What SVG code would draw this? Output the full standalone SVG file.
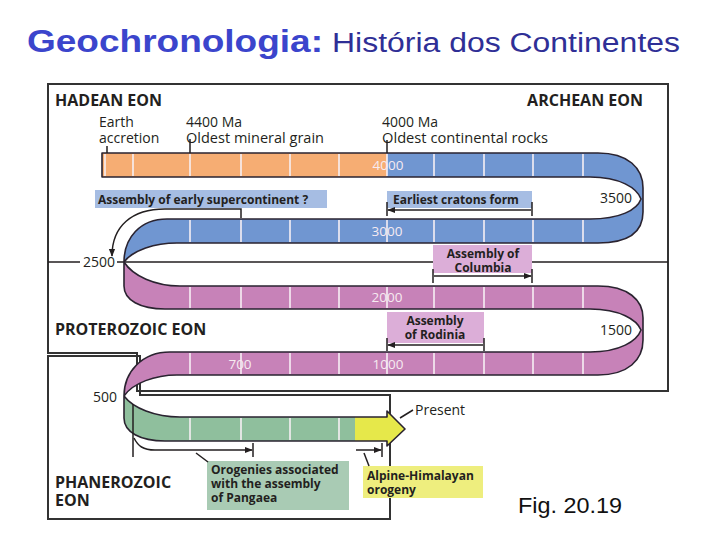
<svg xmlns="http://www.w3.org/2000/svg" width="720" height="540" viewBox="0 0 720 540">
<defs>
<style>
.t{font-family:"Open Sans","Liberation Sans",sans-serif;fill:#231f20}
.eon{font-size:16px;font-weight:700}
.ann{font-size:14px}
.num{font-size:14px}
.bl{font-size:13.5px;fill:#f6ebf1}
.bx{font-size:12px;font-weight:700}
.frame{fill:none;stroke:#333;stroke-width:2}
.ol{fill:none;stroke:#2a2330;stroke-width:1.6;stroke-linejoin:round}
.tick{fill:none;stroke:#f7eff4;stroke-width:1.6}
.ln{fill:none;stroke:#231f20;stroke-width:1.5}
</style>
<marker id="ah" viewBox="0 0 10 10" refX="9" refY="5" markerWidth="8" markerHeight="8" markerUnits="userSpaceOnUse" orient="auto"><path d="M0,1 L10,5 L0,9 Z" fill="#231f20"/></marker>
</defs>
<rect width="720" height="540" fill="#fff"/>

<g id="title">
<text x="27" y="52" font-family="'Liberation Sans',Arial,sans-serif" font-size="31" font-weight="700" fill="#3b45cc" textLength="296" lengthAdjust="spacingAndGlyphs">Geochronologia:</text>
<text x="332" y="52" font-family="'Liberation Sans',Arial,sans-serif" font-size="27" fill="#2f2f96" textLength="348" lengthAdjust="spacingAndGlyphs">História dos Continentes</text>
</g>

<g id="frame">
<path class="frame" d="M48,84 H668 V391 H137 V353 H48 Z"/>
<path class="frame" d="M48,356 H140 V395 H390 V519 H48 Z"/>
<path class="ln" d="M48,262 H80 M117,262 H668"/>
</g>

<g id="ribbon">
<path fill="#f6ad73" d="M102,153 H387 V177 H102 Z"/>
<path fill="#7096d1" d="M387,153 H598 C628,153 643,168 643,188 V212 C643,232 628,243 598,243 H177 C155,243 133,250 124,262 C124,238 140,219 167,219 H590 C620,219 637,210 641,199 C637,188 620,177 590,177 H387 Z"/>
<path fill="#c782b8" d="M124,262 C133,276 155,286 180,286 H598 C628,286 643,300 643,318 V340 C643,360 628,375 598,375 H177 C155,375 133,383 124,396 C124,372 142,352 170,352 H590 C620,352 637,341 641,330 C637,320 620,309 590,309 H165 C140,309 124,300 124,286 Z"/>
<path fill="#8fbf9d" d="M124,396 C133,408 155,417 180,417 H355 V441 H165 C140,441 124,432 124,418 Z"/>
<path fill="#e6e84a" d="M355,417 H387 V411 L405,429 L387,446 V441 H355 Z"/>
<path class="tick" d="M105,154 V176 M133,154 V176 M190,154 V176 M241,154 V176 M290,154 V176 M339,154 V176 M387,154 V176 M434,154 V176 M484,154 V176 M533,154 V176 M583,154 V176
M190,220 V242 M241,220 V242 M290,220 V242 M339,220 V242 M387,220 V242 M434,220 V242 M484,220 V242 M533,220 V242 M583,220 V242
M190,287 V308 M241,287 V308 M290,287 V308 M339,287 V308 M387,287 V308 M434,287 V308 M484,287 V308 M533,287 V308 M583,287 V308
M190,353 V374 M241,353 V374 M290,353 V374 M339,353 V374 M387,353 V374 M434,353 V374 M484,353 V374 M533,353 V374 M583,353 V374
M190,418 V440 M241,418 V440 M290,418 V440 M339,418 V440"/>
<path class="ol" d="M102,153 H598 C628,153 643,168 643,188 V212 C643,232 628,243 598,243 H177 C155,243 133,250 124,262 C133,276 155,286 180,286 H598 C628,286 643,300 643,318 V340 C643,360 628,375 598,375 H177 C155,375 133,383 124,396 C133,408 155,417 180,417 H387 V411 L405,429 L387,446 V441 H165 C140,441 124,432 124,418 V396 C124,372 142,352 170,352 H590 C620,352 637,341 641,330 C637,320 620,309 590,309 H165 C140,309 124,300 124,286 V262 C124,238 140,219 167,219 H590 C620,219 637,210 641,199 C637,188 620,177 590,177 H102 Z"/>
<text class="t bl" x="388" y="170" text-anchor="middle">4000</text>
<text class="t bl" x="387" y="236" text-anchor="middle">3000</text>
<text class="t bl" x="387" y="302" text-anchor="middle">2000</text>
<text class="t bl" x="240" y="369" text-anchor="middle">700</text>
<text class="t bl" x="388" y="369" text-anchor="middle">1000</text>
</g>

<g id="labels">
<text class="t eon" x="55" y="106">HADEAN EON</text>
<text class="t eon" x="643" y="106" text-anchor="end">ARCHEAN EON</text>
<text class="t eon" x="55" y="335">PROTEROZOIC EON</text>
<text class="t eon" x="55" y="488">PHANEROZOIC</text>
<text class="t eon" x="55" y="506">EON</text>
<text class="t ann" x="99" y="127">Earth</text>
<text class="t ann" x="99" y="143">accretion</text>
<text class="t ann" x="186" y="127">4400 Ma</text>
<text class="t ann" x="186" y="143" textLength="138" lengthAdjust="spacingAndGlyphs">Oldest mineral grain</text>
<text class="t ann" x="382" y="127">4000 Ma</text>
<text class="t ann" x="382" y="143" textLength="166" lengthAdjust="spacingAndGlyphs">Oldest continental rocks</text>
<text class="t num" x="632" y="203" text-anchor="end">3500</text>
<text class="t num" x="632" y="335" text-anchor="end">1500</text>
<text class="t num" x="115" y="267" text-anchor="end">2500</text>
<text class="t num" x="117" y="402" text-anchor="end">500</text>
<text class="t ann" x="415" y="415">Present</text>
<text x="518" y="513" font-family="'Liberation Sans',Arial,sans-serif" font-size="22" fill="#111" textLength="104" lengthAdjust="spacingAndGlyphs">Fig. 20.19</text>
</g>

<g id="box-supercontinent">
<rect x="95" y="190" width="232" height="18" fill="#a6bde3"/>
<text class="t bx" x="98" y="204">Assembly of early supercontinent ?</text>
</g>
<g id="box-cratons">
<rect x="387" y="191" width="145" height="17" fill="#a6bde3"/>
<text class="t bx" x="393" y="204">Earliest cratons form</text>
</g>
<g id="box-columbia">
<rect x="433" y="245" width="99" height="28" fill="#dcaed8"/>
<text class="t bx" x="483" y="258" text-anchor="middle" font-size="12.5">Assembly of</text>
<text class="t bx" x="483" y="272" text-anchor="middle" font-size="12.5">Columbia</text>
</g>
<g id="box-rodinia">
<rect x="387" y="312" width="97" height="31" fill="#dcaed8"/>
<text class="t bx" x="435" y="325" text-anchor="middle" font-size="12.5">Assembly</text>
<text class="t bx" x="435" y="339" text-anchor="middle" font-size="12.5">of Rodinia</text>
</g>
<g id="box-pangaea">
<rect x="207" y="461" width="142" height="49" fill="#a9cbb4"/>
<text class="t bx" x="211" y="474">Orogenies associated</text>
<text class="t bx" x="211" y="488">with the assembly</text>
<text class="t bx" x="211" y="502">of Pangaea</text>
</g>
<g id="box-alpine">
<rect x="363" y="466" width="120" height="32" fill="#eeee7e"/>
<text class="t bx" x="367" y="480">Alpine-Himalayan</text>
<text class="t bx" x="367" y="494">orogeny</text>
</g>

<g id="connectors">
<path class="ln" d="M107,146 V153 M190,139 V153 M387,140 V153"/>
<path class="ln" d="M241,218 V209 H165 C132,209 112,226 112,256" marker-end="url(#ah)"/>
<path class="ln" d="M387,202 V216 M532,202 V216"/>
<path class="ln" d="M531,210 H388" marker-end="url(#ah)"/>
<path class="ln" d="M433,269 V283 M532,269 V283"/>
<path class="ln" d="M434,276 H531" marker-end="url(#ah)"/>
<path class="ln" d="M387,338 V351 M484,338 V351"/>
<path class="ln" d="M483,345 H388" marker-end="url(#ah)"/>
<path class="ln" d="M133,404 V457"/>
<path class="ln" d="M134,438 C138,446 143,450 155,450 H252" marker-end="url(#ah)"/>
<path class="ln" d="M253,443 V457"/>
<path class="ln" d="M196,453 L208,462"/>
<path class="ln" d="M356,450 H381" marker-end="url(#ah)"/>
<path class="ln" d="M382,443 V457"/>
<path class="ln" d="M364,453 L369,466"/>
<path class="ln" d="M400,418 L413,410"/>
</g>
</svg>
